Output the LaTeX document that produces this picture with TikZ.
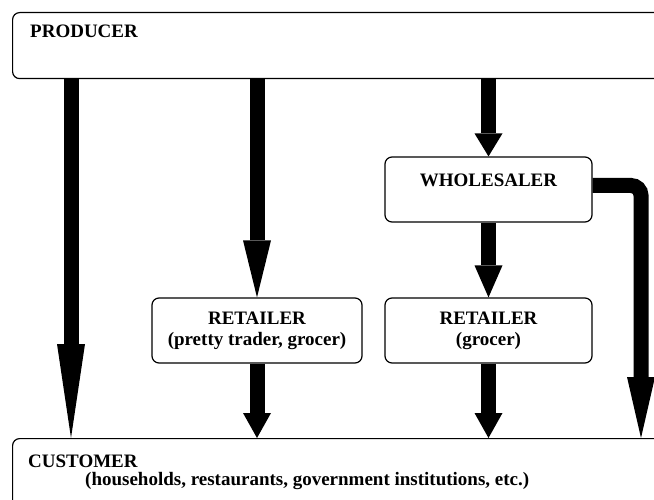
\documentclass[tikz,border=0pt]{standalone}
\usepackage{fontspec}
\setmainfont{Liberation Serif}
\usetikzlibrary{arrows.meta,positioning}
\definecolor{ink}{HTML}{000000}
\definecolor{paper}{HTML}{FFFFFF}
\tikzset{
  box/.style={draw=ink, line width=1.2pt, rounded corners=7pt, inner sep=0pt, fill=paper},
  lab/.style={text=ink, font=\fontsize{19}{21}\selectfont\bfseries, inner sep=0pt},
  flow/.style={draw=ink, line width=15pt, line cap=butt,
    -{Triangle[length=#1, width=28pt, line width=0pt]}},
  flow/.default=25pt,
}
\begin{document}
\begin{tikzpicture}[x=1pt,y=-1pt]
  \clip (0,0) rectangle (654,500);
  \fill[paper] (0,0) rectangle (654,500);

  % boxes
  \node[box, anchor=north west, minimum width=700pt, minimum height=66pt] (producer) at (12,12) {};
  \node[box, minimum width=207pt, minimum height=65pt] (whole) at (488.5,189.5) {};
  \node[box, lab, align=center, minimum width=210pt, minimum height=65pt] (retail1) at (257,330.5)
    {RETAILER\\(pretty trader, grocer)};
  \node[box, lab, align=center, minimum width=207pt, minimum height=65pt] (retail2) at (488.5,330.5)
    {RETAILER\\(grocer)};
  \node[box, anchor=north west, minimum width=700pt, minimum height=90pt] (customer) at (12,438) {};

  \node[lab, anchor=base west] (prodlab) at ([xshift=18pt,yshift=-26pt]producer.north west) {PRODUCER};
  \node[lab, anchor=base] (wholelab) at ([yshift=-30pt]whole.north) {WHOLESALER};
  \node[lab, anchor=base west] (custlab) at ([xshift=16pt,yshift=-29pt]customer.north west) {CUSTOMER};
  \node[lab, anchor=base west] (custsub) at ([xshift=73pt,yshift=-47pt]customer.north west)
    {(households, restaurants, government institutions, etc.)};

  % channels
  \draw[flow=94pt] ([xshift=59pt]producer.south west) -- ([xshift=59pt]customer.north west);
  \draw[flow=57pt] (producer.south -| retail1.north) -- (retail1.north);
  \draw[flow=23pt] (producer.south -| whole.north) -- (whole.north);
  \draw[flow=32pt] (whole.south) -- (retail2.north);
  \draw[flow] (retail1.south) -- (retail1.south |- customer.north);
  \draw[flow] (retail2.south) -- (retail2.south |- customer.north);
  \draw[flow=61pt, rounded corners=10pt] ([yshift=4pt]whole.east)
    -| ([xshift=629pt]customer.north west);
\end{tikzpicture}
\end{document}
